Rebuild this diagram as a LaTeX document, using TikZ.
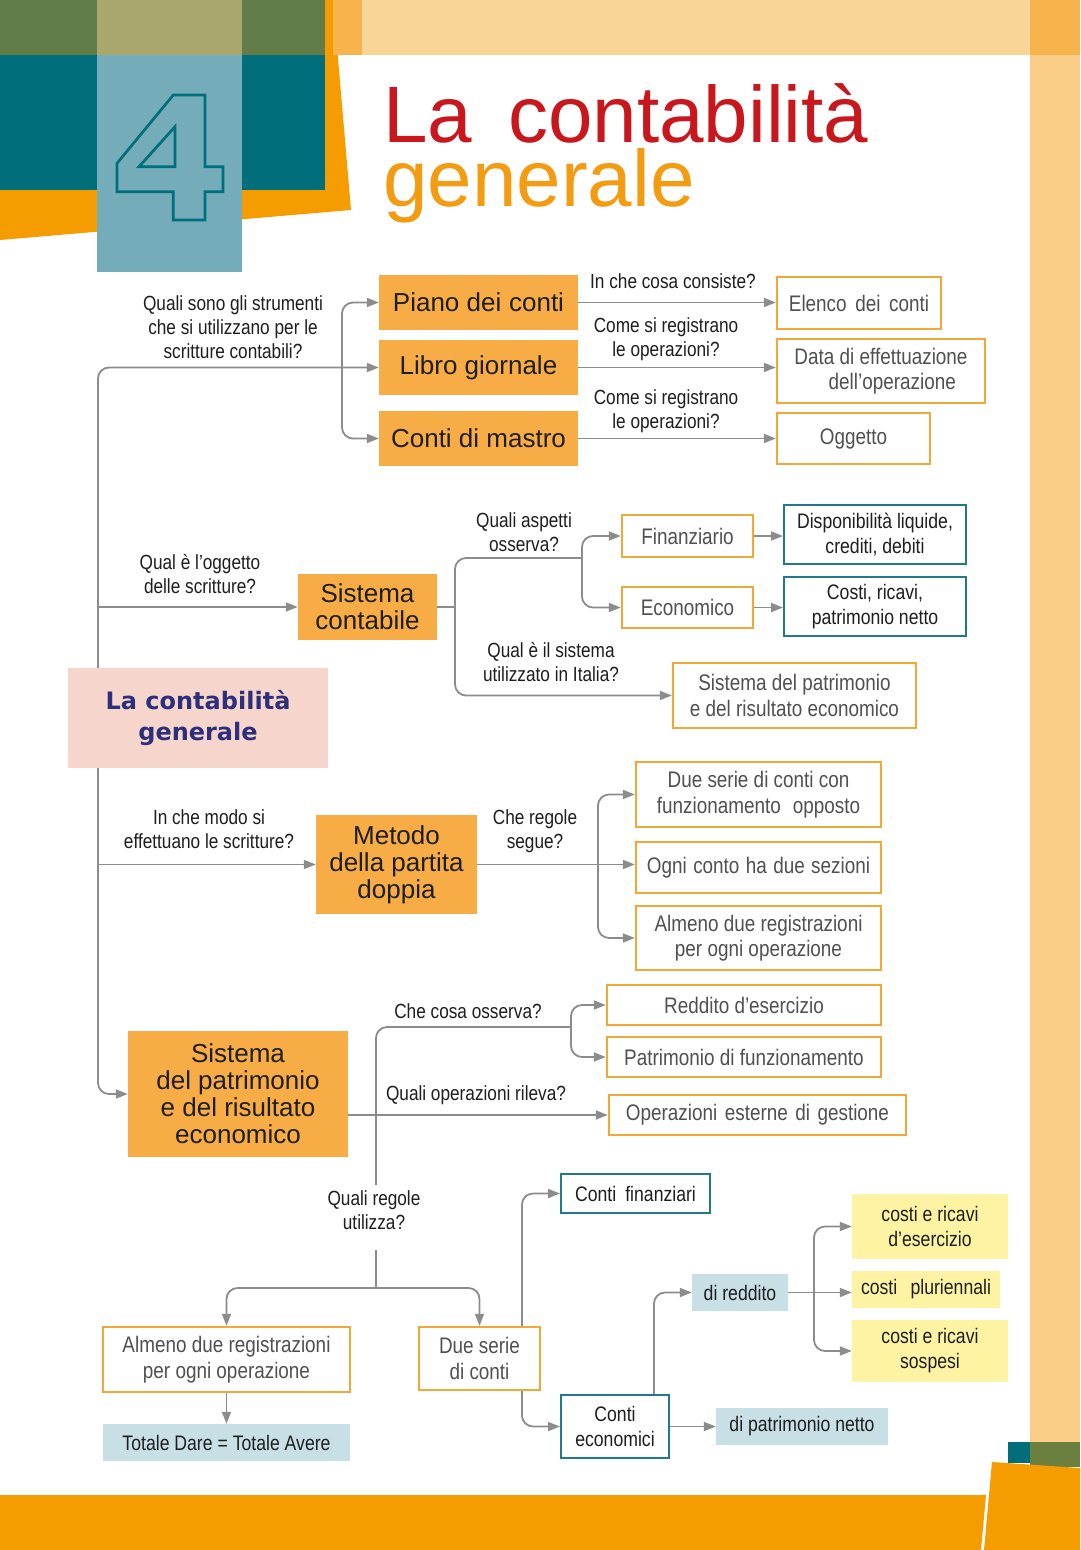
\documentclass[tikz,border=0pt]{standalone}
\usepackage{fontspec}
\setmainfont{Liberation Sans}
\newfontfamily\nf[FakeStretch=0.84]{Liberation Sans}
\newfontfamily\rf{DejaVu Sans}
\usetikzlibrary{arrows.meta,calc}
\pgfdeclarelayer{deco}
\pgfdeclarelayer{bg}
\pgfsetlayers{deco,bg,main}
\newcommand\fsz[2]{\fontsize{#1}{#2}\selectfont}
\definecolor{cGray}{HTML}{8C8C8C}
\definecolor{oFill}{HTML}{F7AC46}
\definecolor{oLine}{HTML}{F2A736}
\definecolor{tLine}{HTML}{21798A}
\definecolor{lBlue}{HTML}{C7DFE5}
\definecolor{yel}{HTML}{FDF3A2}
\definecolor{pinkb}{HTML}{F6D6CC}
\definecolor{navy}{HTML}{2D2F7A}
\definecolor{txtG}{HTML}{505050}
\definecolor{txtD}{HTML}{1E1E1E}
\definecolor{titleRed}{HTML}{C9171E}
\definecolor{titleOr}{HTML}{F39C11}
\definecolor{dTeal}{HTML}{006E7B}
\definecolor{lTeal}{HTML}{74ADB9}
\definecolor{dGreen}{HTML}{637D4A}
\definecolor{olive}{HTML}{A7A76E}
\definecolor{orng}{HTML}{F49C00}
\definecolor{lOrng}{HTML}{F8B44C}
\definecolor{pale}{HTML}{F9D597}
\definecolor{paleR}{HTML}{F9CD86}
\definecolor{green2}{HTML}{6B7F3E}
\tikzset{
  sz/.style 2 args={minimum width=#1pt,minimum height=#2pt},
  ofill/.style={fill=oFill,draw=none,align=center,inner sep=0pt,text=txtD,font=\fsz{26}{27}},
  obox/.style={draw=oLine,line width=2.4pt,fill=white,align=center,inner sep=0pt,text=txtG,font=\nf\fsz{22.5}{25.5}},
  tbox/.style={draw=tLine,line width=2pt,fill=white,align=center,inner sep=0pt,text=txtD,font=\nf\fsz{21}{25}},
  bbox/.style={fill=lBlue,draw=none,align=center,inner sep=0pt,text=txtD,font=\nf\fsz{21}{25}},
  ybox/.style={fill=yel,draw=none,align=center,inner sep=0pt,text=txtD,font=\nf\fsz{21}{25}},
  lbl/.style={align=center,inner sep=0pt,text=txtD,font=\nf\fsz{20.5}{24}},
  conn/.style={draw=cGray,line width=1.8pt,rounded corners=11pt},
  sharp/.style={draw=cGray,line width=1.8pt},
  arr/.style={-{Triangle[length=12pt,width=9pt]}}
}
\begin{document}
\begin{tikzpicture}[x=1pt,y=-1pt]
\useasboundingbox (0,0) rectangle (1080,1550);
% ---------- decoration ----------
\begin{pgfonlayer}{deco}
\fill[white] (0,0) rectangle (1080,1550);
\fill[orng] (0,0) -- (333,0) -- (351,210) -- (0,240) -- cycle;
\fill[dGreen] (0,0) rectangle (325,55);
\fill[olive] (97,0) rectangle (242,55);
\fill[dTeal] (0,55) rectangle (325,190);
\fill[lTeal] (97,55) rectangle (242,272);
\fill[lOrng] (333,0) rectangle (362,55);
\fill[pale] (362,0) rectangle (1030,55);
\fill[lOrng] (1030,0) rectangle (1080,55);
\fill[paleR] (1030,55) rectangle (1080,1442);
\fill[dTeal] (1008,1442) rectangle (1030,1463);
\fill[green2] (1030,1442) rectangle (1080,1467);
\fill[orng] (0,1495) -- (986,1495) -- (981,1550) -- (0,1550) -- cycle;
\fill[orng] (992,1462) -- (1080,1468) -- (1080,1550) -- (984,1550) -- cycle;
\end{pgfonlayer}
% the 4
\draw[draw=dTeal,line width=2.7pt,line join=miter]
  (173.3,95) -- (205,95) -- (205,166.7) -- (223,166.7) -- (223,191.7) -- (205,191.7)
  -- (205,220) -- (173.3,220) -- (173.3,191.7) -- (117,191.7) -- (117,163.3) -- cycle
  (139,166.7) -- (175,166.7) -- (175,126.7) -- cycle;
% title
\node[anchor=base west,inner sep=0pt,text depth=0pt,text=titleRed,font=\fsz{80}{80}] (t1) at (383,142) {La\hspace{36pt}contabilità};
\node[anchor=base west,inner sep=0pt,text height=58pt,text=titleOr,font=\fsz{80}{80}] (t2) at (383,206) {generale};
% ---------- nodes ----------
\node[fill=pinkb,sz={260}{100},align=center,inner sep=0pt,text=navy,font=\rf\bfseries\fsz{24}{31}] (root) at (198,718) {La contabilità\\generale};

\node[ofill,sz={199}{55}] (piano) at (478.5,302.5) {Piano dei\hspace{0.3em}conti};
\node[ofill,sz={199}{55}] (libro) at (478.5,367.5) {Libro giornale};
\node[ofill,sz={199}{55}] (mastro) at (478.5,438.5) {Conti di mastro};
\node[obox,sz={164}{52}] (elenco) at (859,303) {Elenco\hspace{0.15em} dei\hspace{0.15em} conti};
\node[obox,sz={208}{64}] (data) at (881,371) {Data di effettuazione\\\hspace*{1em}dell’operazione};
\node[obox,sz={153}{51}] (oggetto) at (853.5,438.5) {Oggetto};

\node[ofill,sz={139}{66}] (siscont) at (367.5,607) {Sistema\\contabile};
\node[obox,sz={131}{42}] (finanz) at (687.5,536) {Finanziario};
\node[obox,sz={131}{41}] (econ) at (687.5,607.5) {Economico};
\node[tbox,sz={182}{59}] (dispon) at (875,534.5) {Disponibilità liquide,\\crediti, debiti};
\node[tbox,sz={182}{59}] (costi) at (875,606.5) {Costi, ricavi,\\patrimonio netto};
\node[obox,sz={243}{65}] (sispat1) at (794.5,695.5) {Sistema del patrimonio\\e del risultato economico};

\node[ofill,sz={161}{99}] (metodo) at (396.5,864.5) {Metodo\\della partita\\doppia};
\node[obox,sz={245}{65}] (dueserie1) at (758.5,794.5) {Due serie di conti con\\funzionamento\hspace{0.3em} opposto};
\node[obox,sz={245}{51}] (ogni) at (758.5,867.5) {Ogni\hspace{0.05em} conto\hspace{0.05em} ha\hspace{0.05em} due\hspace{0.05em} sezioni};
\node[obox,sz={245}{64}] (almeno1) at (758.5,938) {Almeno due registrazioni\\per ogni operazione};

\node[ofill,sz={220}{126}] (sispat2) at (238,1094) {Sistema\\del patrimonio\\e del risultato\\economico};
\node[obox,sz={274}{40}] (reddito) at (744,1005) {Reddito d’esercizio};
\node[obox,sz={274}{40}] (patfunz) at (744,1057) {Patrimonio di funzionamento};
\node[obox,sz={297}{40}] (opest) at (757.5,1115) {Operazioni\hspace{0.1em} esterne\hspace{0.1em} di\hspace{0.1em} gestione};

\node[obox,sz={247}{65}] (almeno2) at (226.5,1359.5) {Almeno due registrazioni\\per ogni operazione};
\node[bbox,sz={247}{37}] (totale) at (226.5,1442.5) {Totale Dare = Totale Avere};
\node[obox,sz={121}{63}] (dueserie2) at (479.5,1358.5) {Due serie\\di conti};
\node[tbox,sz={149}{39}] (contifin) at (635.5,1193.5) {Conti\hspace{0.2em} finanziari};
\node[tbox,sz={108}{63}] (contiecon) at (615,1426.5) {Conti\\economici};
\node[bbox,sz={96}{37}] (direddito) at (740,1292.5) {di reddito};
\node[bbox,sz={172}{37}] (dipatr) at (802,1426.5) {di patrimonio netto};
\node[ybox,sz={156}{65}] (cresercizio) at (930,1226.5) {costi e ricavi\\d’esercizio};
\node[ybox,sz={148}{37}] (plur) at (926,1289.5) {costi\hspace{0.4em} pluriennali};
\node[ybox,sz={156}{62}] (sospesi) at (930,1351) {costi e ricavi\\sospesi};

% ---------- labels ----------
\node[lbl] (q1) at (233,327) {Quali sono gli strumenti\\che si utilizzano per le\\scritture contabili?};
\node[lbl] (q2) at (673,281) {In che cosa consiste?};
\node[lbl] (q3) at (666,339.5) {Come si registrano\\le operazioni?};
\node[lbl] (q4) at (666,411.5) {Come si registrano\\le operazioni?};
\node[lbl] (q5) at (200,574) {Qual è l’oggetto\\delle scritture?};
\node[lbl] (q6) at (524,532) {Quali aspetti\\osserva?};
\node[lbl] (q7) at (551,662) {Qual è il sistema\\utilizzato in Italia?};
\node[lbl] (q8) at (209,829.5) {In che modo si\\effettuano le scritture?};
\node[lbl] (q9) at (535,831) {Che regole\\segue?};
\node[lbl] (q10) at (468,1011) {Che cosa osserva?};
\node[lbl] (q11) at (476,1095) {Quali operazioni rileva?};
\node[lbl] (q12) at (374,1210.5) {Quali regole\\utilizza?};

% ---------- connectors ----------
\coordinate (tr) at (98,718);
\coordinate (b1) at (342,367.5);
\coordinate (b2) at (455,607);
\coordinate (b3) at (582,558);
\coordinate (b4) at (598,864.5);
\coordinate (b5) at (571,1027);
\coordinate (v1) at (376,1185);
\coordinate (v2) at (376,1250);
\coordinate (b6) at (376,1288);
\coordinate (b7) at (814,1292.5);
\begin{pgfonlayer}{bg}
\draw[conn,arr] (tr) |- (libro.west);
\draw[conn,arr] (tr) |- (sispat2.west);
\draw[sharp,arr] (tr |- siscont.west) -- (siscont.west);
\draw[sharp,arr] (tr |- metodo.west) -- (metodo.west);
\draw[conn,arr] (b1) |- (piano.west);
\draw[conn,arr] (b1) |- (mastro.west);
\draw[sharp,arr] (piano.east) -- (piano.east -| elenco.west);
\draw[sharp,arr] (libro.east) -- (libro.east -| data.west);
\draw[sharp,arr] (mastro.east) -- (mastro.east -| oggetto.west);
\draw[sharp] (siscont.east) -- (b2);
\draw[conn] (b2) |- (b3);
\draw[conn,arr] (b2) |- (sispat1.west);
\draw[conn,arr] (b3) |- (finanz.west);
\draw[conn,arr] (b3) |- (econ.west);
\draw[sharp,arr] (finanz.east) -- (finanz.east -| dispon.west);
\draw[sharp,arr] (econ.east) -- (econ.east -| costi.west);
\draw[sharp] (metodo.east) -- (b4);
\draw[conn,arr] (b4) |- (dueserie1.west);
\draw[sharp,arr] (b4) -- (b4 -| ogni.west);
\draw[conn,arr] (b4) |- (almeno1.west);
\draw[sharp,arr] (opest.west -| sispat2.east) -- (opest.west);
\draw[conn] (v1) |- (b5);
\draw[conn,arr] (b5) |- (reddito.west);
\draw[conn,arr] (b5) |- (patfunz.west);
\draw[sharp] (v2) -- (b6);
\draw[conn,arr] (b6) -| (almeno2.north);
\draw[conn,arr] (b6) -| (dueserie2.north);
\draw[sharp,arr] (almeno2.south) -- (totale.north);
\draw[conn,arr] ([xshift=42.5pt]dueserie2.north) |- (contifin.west);
\draw[conn,arr] ([xshift=42.5pt]dueserie2.south) |- (contiecon.west);
\draw[conn,arr] ([xshift=39pt]contiecon.north) |- (direddito.west);
\draw[sharp,arr] (contiecon.east) -- (contiecon.east -| dipatr.west);
\draw[sharp,arr] (direddito.east) -- (direddito.east -| plur.west);
\draw[conn,arr] (b7) |- (cresercizio.west);
\draw[conn,arr] (b7) |- (sospesi.west);
\end{pgfonlayer}
\end{tikzpicture}
\end{document}
